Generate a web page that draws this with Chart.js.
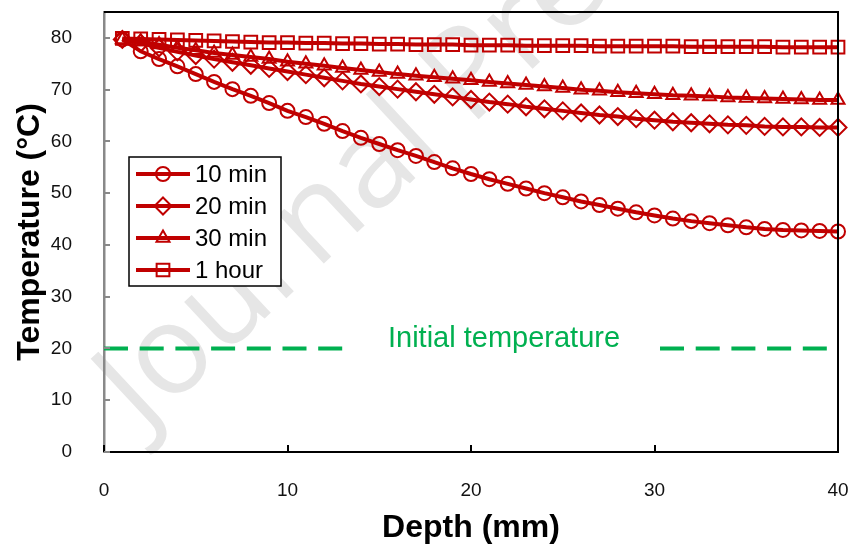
<!DOCTYPE html>
<html>
<head>
<meta charset="utf-8">
<script src="https://cdn.jsdelivr.net/npm/chart.js@4.4.1/dist/chart.umd.min.js"></script>
<style>
  html, body { margin: 0; padding: 0; background: #fff; }
</style>
</head>
<body>
<canvas id="tempChart" width="852" height="547"></canvas>
<script>
// depth along the sample (mm)
const depth = [1, 2, 3, 4, 5, 6, 7, 8, 9, 10, 11, 12, 13, 14, 15, 16, 17, 18, 19, 20,
  21, 22, 23, 24, 25, 26, 27, 28, 29, 30, 31, 32, 33, 34, 35, 36, 37, 38, 39, 40];

// temperature (°C) after each heating time
const temp10min = [79.7, 77.4, 75.9, 74.5, 73.0, 71.5, 70.1, 68.8, 67.4, 65.9,
  64.7, 63.4, 62.0, 60.7, 59.5, 58.3, 57.2, 56.0, 54.8, 53.7,
  52.7, 51.8, 50.9, 50.0, 49.2, 48.4, 47.7, 47.0, 46.3, 45.7,
  45.1, 44.6, 44.2, 43.8, 43.4, 43.1, 42.9, 42.8, 42.7, 42.6];
const temp20min = [79.7, 79.0, 78.1, 77.3, 76.6, 75.9, 75.3, 74.7, 74.1, 73.5,
  72.9, 72.3, 71.7, 71.1, 70.6, 70.1, 69.6, 69.1, 68.6, 68.1,
  67.6, 67.2, 66.7, 66.3, 65.9, 65.5, 65.1, 64.8, 64.4, 64.1,
  63.8, 63.6, 63.4, 63.2, 63.1, 62.9, 62.8, 62.8, 62.7, 62.7];
const temp30min = [79.7, 79.3, 78.7, 78.1, 77.6, 77.1, 76.7, 76.3, 75.9, 75.4,
  75.0, 74.6, 74.2, 73.8, 73.4, 73.0, 72.7, 72.4, 72.1, 71.8,
  71.5, 71.2, 70.9, 70.6, 70.3, 70.0, 69.8, 69.5, 69.3, 69.1,
  68.9, 68.8, 68.7, 68.5, 68.4, 68.3, 68.2, 68.1, 68.0, 68.0];
const temp1hour = [79.9, 79.8, 79.7, 79.6, 79.5, 79.4, 79.3, 79.2, 79.1, 79.1,
  79.0, 79.0, 78.9, 78.9, 78.8, 78.8, 78.7, 78.7, 78.7, 78.6,
  78.6, 78.6, 78.5, 78.5, 78.5, 78.5, 78.4, 78.4, 78.4, 78.4,
  78.4, 78.3, 78.3, 78.3, 78.3, 78.3, 78.2, 78.2, 78.2, 78.2];

// initial temperature reference line (broken where the label sits)
const initDepth = [0, 13.0, 13.1, 30.3, 40];
const initTemp = [20, 20, null, 20, 20];
const initLabel = "Initial temperature";
const initLabelDepth = 21.8;

const seriesLabels = ["10 min", "20 min", "30 min", "1 hour"];
const xTicks = [0, 10, 20, 30, 40];
const yTicks = [0, 10, 20, 30, 40, 50, 60, 70, 80];

const RED = "#c00000";
const GREEN = "#00b050";
const styles = [
  { pointStyle: "circle", radius: 7 },
  { pointStyle: "rectRot", radius: 8.5 },
  { pointStyle: "triangle", radius: 7.5 },
  { pointStyle: "rect", radius: 9 }
];
const seriesTemps = [temp10min, temp20min, temp30min, temp1hour];

const toPoints = (xs, ys) => xs.map((x, i) => ({ x: x, y: ys[i] }));

const datasets = seriesTemps.map((t, i) => ({
  label: seriesLabels[i],
  data: toPoints(depth, t),
  borderColor: RED,
  borderWidth: 4,
  pointStyle: styles[i].pointStyle,
  pointRadius: styles[i].radius,
  pointBorderColor: RED,
  pointBorderWidth: 2,
  pointBackgroundColor: "rgba(0,0,0,0)",
  clip: false
}));

datasets.push({
  label: "Initial temperature",
  data: toPoints(initDepth, initTemp),
  borderColor: GREEN,
  borderWidth: 4,
  borderDash: [24, 11.7],
  pointRadius: 0,
  spanGaps: false,
  clip: false
});

function drawMarker(ctx, style, x, y, r) {
  ctx.beginPath();
  if (style === "circle") {
    ctx.arc(x, y, r, 0, Math.PI * 2);
  } else if (style === "rectRot") {
    ctx.moveTo(x, y - r); ctx.lineTo(x + r, y); ctx.lineTo(x, y + r); ctx.lineTo(x - r, y);
    ctx.closePath();
  } else if (style === "triangle") {
    const h = r * Math.sqrt(3) / 2;
    ctx.moveTo(x, y - r); ctx.lineTo(x + h, y + r / 2); ctx.lineTo(x - h, y + r / 2);
    ctx.closePath();
  } else {
    const s = r * Math.SQRT1_2;
    ctx.rect(x - s, y - s, 2 * s, 2 * s);
  }
  ctx.stroke();
}

// no extra label overhang padding, so the plot box keeps its place
function noPad(s) {
  s.paddingLeft = 0; s.paddingRight = 0; s.paddingTop = 0; s.paddingBottom = 0;
}

// faint watermark behind the plot
const watermark = {
  id: "watermark",
  beforeDraw(chart) {
    const ctx = chart.ctx;
    ctx.save();
    ctx.translate(143, 432);
    ctx.rotate(-43 * Math.PI / 180);
    ctx.font = "125px 'Open Sans'";
    ctx.fillStyle = "#e6e6e6";
    ctx.textBaseline = "alphabetic";
    ctx.fillText("Journal Pre-proof", 0, 0);
    ctx.restore();
  }
};

// inward ticks, frame, label of the reference line and the boxed legend
const decorations = {
  id: "decorations",
  afterDraw(chart) {
    const ctx = chart.ctx;
    const a = chart.chartArea;
    const xs = chart.scales.x, ys = chart.scales.y;
    ctx.save();

    ctx.strokeStyle = "#000";
    ctx.lineWidth = 2;
    ctx.beginPath();
    ctx.moveTo(a.left, a.top); ctx.lineTo(a.right, a.top); ctx.lineTo(a.right, a.bottom);
    ctx.stroke();

    xTicks.forEach(v => {
      const px = Math.round(xs.getPixelForValue(v));
      ctx.beginPath(); ctx.moveTo(px, a.bottom); ctx.lineTo(px, a.bottom - 7); ctx.stroke();
    });
    ctx.strokeStyle = "#898989";
    yTicks.forEach(v => {
      const py = Math.round(ys.getPixelForValue(v));
      ctx.beginPath(); ctx.moveTo(a.left, py); ctx.lineTo(a.left + 6, py); ctx.stroke();
    });

    ctx.fillStyle = GREEN;
    ctx.font = "29px 'Liberation Sans', Arial, sans-serif";
    ctx.textAlign = "center";
    ctx.textBaseline = "middle";
    ctx.fillText(initLabel, xs.getPixelForValue(initLabelDepth), ys.getPixelForValue(20) - 9);

    // legend box
    const bx = a.left + 25, by = a.top + 145, bw = 152, bh = 129;
    ctx.fillStyle = "#fff";
    ctx.fillRect(bx, by, bw, bh);
    ctx.strokeStyle = "#000";
    ctx.lineWidth = 1.5;
    ctx.strokeRect(bx, by, bw, bh);
    seriesLabels.forEach((lab, i) => {
      const ry = by + 17 + i * 32;
      ctx.strokeStyle = RED;
      ctx.lineWidth = 4;
      ctx.beginPath(); ctx.moveTo(bx + 7, ry); ctx.lineTo(bx + 61, ry); ctx.stroke();
      ctx.lineWidth = 2;
      drawMarker(ctx, styles[i].pointStyle, bx + 34, ry, styles[i].radius);
      ctx.fillStyle = "#000";
      ctx.font = "24px 'Liberation Sans', Arial, sans-serif";
      ctx.textAlign = "left";
      ctx.textBaseline = "middle";
      ctx.fillText(lab, bx + 66, ry + 1);
    });
    ctx.restore();
  }
};

new Chart(document.getElementById("tempChart"), {
  type: "line",
  data: { datasets: datasets },
  options: {
    responsive: false,
    animation: false,
    devicePixelRatio: 1,
    layout: { padding: { top: 12, right: 14, left: 0, bottom: 0 } },
    plugins: { legend: { display: false }, tooltip: { enabled: false } },
    scales: {
      x: {
        type: "linear",
        min: 0,
        max: 40,
        afterFit: s => { s.height = 95; noPad(s); },
        afterBuildTicks: s => { s.ticks = xTicks.map(v => ({ value: v })); },
        grid: { display: true, drawOnChartArea: false, drawTicks: false },
        border: { display: true, color: "#000", width: 2 },
        ticks: {
          padding: 27,
          color: "#111",
          font: { family: "'Liberation Sans', Arial, sans-serif", size: 19 },
          maxRotation: 0
        },
        title: {
          display: true,
          text: "Depth (mm)",
          color: "#000",
          font: { family: "'Liberation Sans', Arial, sans-serif", size: 32, weight: "bold" },
          padding: { top: 0, bottom: 0 }
        }
      },
      y: {
        type: "linear",
        min: 0,
        max: 85,
        afterFit: s => { s.width = 104; noPad(s); },
        afterBuildTicks: s => { s.ticks = yTicks.map(v => ({ value: v })); },
        grid: { display: true, drawOnChartArea: false, drawTicks: false },
        border: { display: true, color: "#898989", width: 2.5 },
        ticks: {
          padding: 32,
          color: "#111",
          font: { family: "'Liberation Sans', Arial, sans-serif", size: 19 }
        },
        title: {
          display: true,
          text: "Temperature (°C)",
          color: "#000",
          font: { family: "'Liberation Sans', Arial, sans-serif", size: 32, weight: "bold" },
          padding: { top: 11, bottom: 0 }
        }
      }
    }
  },
  plugins: [watermark, decorations]
});
</script>
</body>
</html>
